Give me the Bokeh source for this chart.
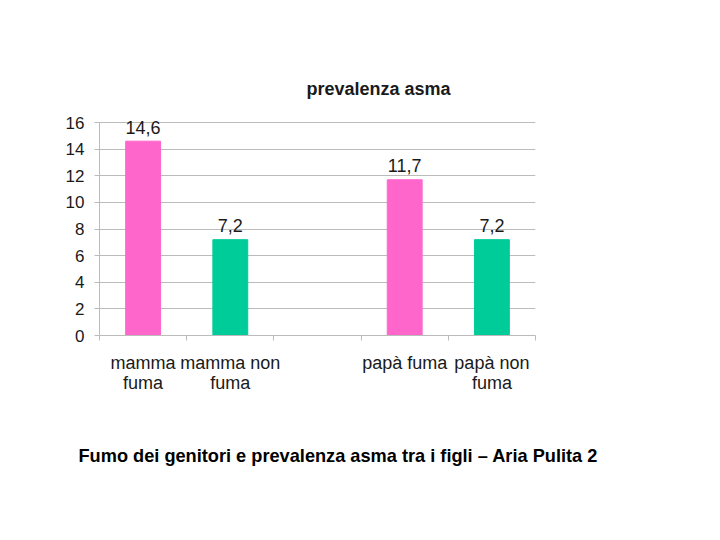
from bokeh.plotting import figure
from bokeh.models import FixedTicker, LinearAxis, Label, ColumnDataSource, Range1d, Grid, Title
from bokeh.core.properties import value
from bokeh.embed import file_html
from bokeh.resources import INLINE

categories = ["mamma\nfuma", "mamma non\nfuma", "", "papà fuma", "papà non\nfuma"]
values = [14.6, 7.2, None, 11.7, 7.2]
value_labels = ["14,6", "7,2", "", "11,7", "7,2"]
colors = ["#FF66CC", "#00CC99", "#FFFFFF", "#FF66CC", "#00CC99"]
y_ticks = [0, 2, 4, 6, 8, 10, 12, 14, 16]
chart_title = "prevalenza asma"
caption_text = "Fumo dei genitori e prevalenza asma tra i figli –  Aria Pulita 2"

FONT = "Liberation Sans"
TXT = "#1a1a1a"

xs, tops, labs, cols = [], [], [], []
for i, v in enumerate(values):
    if v is None:
        continue
    xs.append(i + 0.5)
    tops.append(v)
    labs.append(value_labels[i])
    cols.append(colors[i])
src = ColumnDataSource(dict(x=xs, top=tops, lab=labs, color=cols))

p = figure(width=720, height=540, output_backend="svg", toolbar_location=None,
           x_range=Range1d(0, len(categories)), y_range=Range1d(0, 20.66),
           min_border_left=99, min_border_right=185, min_border_top=60,
           min_border_bottom=205, x_axis_location=None, y_axis_location=None)
p.outline_line_color = None
p.background_fill_color = "white"
p.border_fill_color = "white"
p.xgrid.visible = False
p.ygrid.visible = False

p.vbar(x="x", top="top", width=0.4, color="color", source=src)
p.text(x="x", y="top", text="lab", source=src, text_align="center",
       text_baseline="middle", y_offset=-14, text_font_size="18px",
       text_color=TXT, text_font=value(FONT))

# y axis
ya = LinearAxis(ticker=FixedTicker(ticks=y_ticks), bounds=(0, 16))
ya.axis_line_color = "#BBBBBB"
ya.major_tick_line_color = "#BBBBBB"
ya.major_tick_in = 0
ya.major_tick_out = 5
ya.minor_tick_line_color = None
ya.major_label_text_font = FONT
ya.major_label_text_font_size = "17px"
ya.major_label_text_color = TXT
ya.major_label_standoff = 10
p.add_layout(ya, "left")

# x axis: labels at category centres, tick marks at category boundaries
xl = LinearAxis(ticker=FixedTicker(ticks=[i + 0.5 for i in range(len(categories))],
                                   minor_ticks=list(range(len(categories) + 1))))
xl.axis_line_color = "#BBBBBB"
xl.major_tick_line_color = None
xl.major_tick_out = 0
xl.major_tick_in = 0
xl.minor_tick_line_color = "#BBBBBB"
xl.minor_tick_out = 5
xl.minor_tick_in = 0
xl.major_label_overrides = {i + 0.5: c for i, c in enumerate(categories)}
xl.major_label_text_font = FONT
xl.major_label_text_font_size = "18px"
xl.major_label_text_color = TXT
xl.major_label_standoff = 12
xl.major_label_text_line_height = 1.0
p.add_layout(xl, "below")

p.add_layout(Grid(dimension=1, ticker=FixedTicker(ticks=y_ticks), grid_line_color="#BBBBBB",
                  bounds=(0, len(categories))))

title = Label(x=3.2, y=18.55, text=chart_title, text_align="center",
              text_baseline="middle", text_font=FONT,
              text_font_style="bold", text_font_size="18px", text_color=TXT)
p.add_layout(title)

cap = Title(text=caption_text, align="left", offset=-21, standoff=96, text_font=FONT,
            text_font_style="bold", text_font_size="18.2px", text_color="#000000")
p.add_layout(cap, "below")

open("out.html", "w").write(file_html(p, INLINE))
